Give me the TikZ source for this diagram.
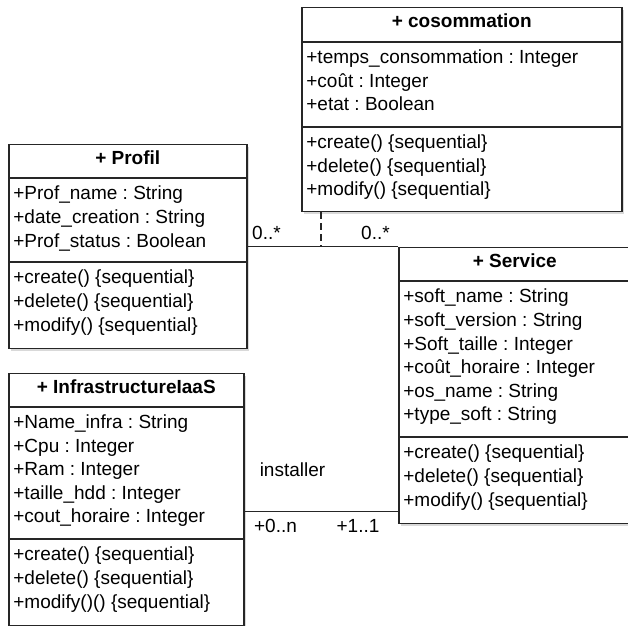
\documentclass[tikz,border=0pt]{standalone}
\usepackage{fontspec}
\setmainfont{Liberation Sans}
\usetikzlibrary{positioning, calc, shadows}
\frenchspacing

\begin{document}
\begin{tikzpicture}[x=0.5pt, y=-0.5pt,
    classbox/.style={draw=black!85, line width=0.75pt, fill=white, anchor=north west,
                inner sep=0pt, drop shadow={shadow xshift=1pt, shadow yshift=-1pt, opacity=0.3}},
    divider/.style={draw=black!85, line width=0.75pt},
    classname/.style={font=\fontsize{9.5}{11.8}\selectfont\bfseries},
    members/.style={anchor=north west, align=left, inner sep=0pt,
                font=\fontsize{9.5}{11.8}\selectfont},
    assoc/.style={draw=black!85, line width=0.75pt},
    mult/.style={font=\fontsize{9.5}{11.8}\selectfont, inner sep=0pt}
]
\useasboundingbox (0,0) rectangle (628,626);
\clip (0,0) rectangle (628,626);

% Class: cosommation
\node[classbox, minimum width=160pt, minimum height=102pt] (cosom) at (301,7) {};
\draw[divider] ($(cosom.north west)+(0,35)$) -- ($(cosom.north east)+(0,35)$);
\draw[divider] ($(cosom.north west)+(0,120)$) -- ($(cosom.north east)+(0,120)$);
\node[classname] (cosom-name) at ($(cosom.north)+(0,13.5)$) {+ cosommation};
\node[members] (cosom-attr) at ($(cosom.north west)+(5,39.5)$)
    {\strut+temps\_consommation : Integer\\+coût : Integer\\+etat : Boolean};
\node[members] (cosom-op) at ($(cosom.north west)+(5,124.5)$)
    {\strut+create() \{sequential\}\\+delete() \{sequential\}\\+modify() \{sequential\}};

% Class: Profil
\node[classbox, minimum width=119pt, minimum height=102pt] (profil) at (8,144) {};
\draw[divider] ($(profil.north west)+(0,34)$) -- ($(profil.north east)+(0,34)$);
\draw[divider] ($(profil.north west)+(0,118)$) -- ($(profil.north east)+(0,118)$);
\node[classname] (profil-name) at ($(profil.north)+(0,13.5)$) {+ Profil};
\node[members] (profil-attr) at ($(profil.north west)+(5,39)$)
    {\strut+Prof\_name : String\\+date\_creation : String\\+Prof\_status : Boolean};
\node[members] (profil-op) at ($(profil.north west)+(5,123)$)
    {\strut+create() \{sequential\}\\+delete() \{sequential\}\\+modify() \{sequential\}};

% Class: Service
\node[classbox, minimum width=116pt, minimum height=138pt] (svc) at (398,247) {};
\draw[divider] ($(svc.north west)+(0,34)$) -- ($(svc.north east)+(0,34)$);
\draw[divider] ($(svc.north west)+(0,190)$) -- ($(svc.north east)+(0,190)$);
\node[classname] (svc-name) at ($(svc.north)+(0,13.5)$) {+ Service};
\node[members] (svc-attr) at ($(svc.north west)+(5,39)$)
    {\strut+soft\_name : String\\+soft\_version : String\\+Soft\_taille : Integer\\
     +coût\_horaire : Integer\\+os\_name : String\\+type\_soft : String};
\node[members] (svc-op) at ($(svc.north west)+(5,195)$)
    {\strut+create() \{sequential\}\\+delete() \{sequential\}\\+modify() \{sequential\}};

% Class: InfrastructureIaaS
\node[classbox, minimum width=117.5pt, minimum height=126pt] (infra) at (8,373) {};
\draw[divider] ($(infra.north west)+(0,34)$) -- ($(infra.north east)+(0,34)$);
\draw[divider] ($(infra.north west)+(0,166)$) -- ($(infra.north east)+(0,166)$);
\node[classname] (infra-name) at ($(infra.north)+(0,13.5)$) {+ InfrastructureIaaS};
\node[members] (infra-attr) at ($(infra.north west)+(5,38.5)$)
    {\strut+Name\_infra : String\\+Cpu : Integer\\+Ram : Integer\\
     +taille\_hdd : Integer\\+cout\_horaire : Integer};
\node[members] (infra-op) at ($(infra.north west)+(5,171)$)
    {\strut+create() \{sequential\}\\+delete() \{sequential\}\\+modify()() \{sequential\}};

% Associations
\draw[assoc] (profil.east) -- (profil.east -| svc.west);
\coordinate (dep) at ($(cosom.south west)+(20,0)$);
\draw[assoc, dash pattern=on 3.5pt off 2pt] (dep) -- (dep |- profil.east);
\draw[assoc] ([yshift=-6pt]infra.east) -- ([yshift=-6pt]infra.east -| svc.west);

% Multiplicities and role
\node[mult] (m-profil) at (266.5,233) {0..*};
\node[mult] (m-svc) at (375.5,233) {0..*};
\node[mult] (role) at (292.5,470) {installer};
\node[mult] (m-infra) at (275.5,526) {+0..n};
\node[mult] (m-inst) at (358,526) {+1..1};

\end{tikzpicture}
\end{document}
